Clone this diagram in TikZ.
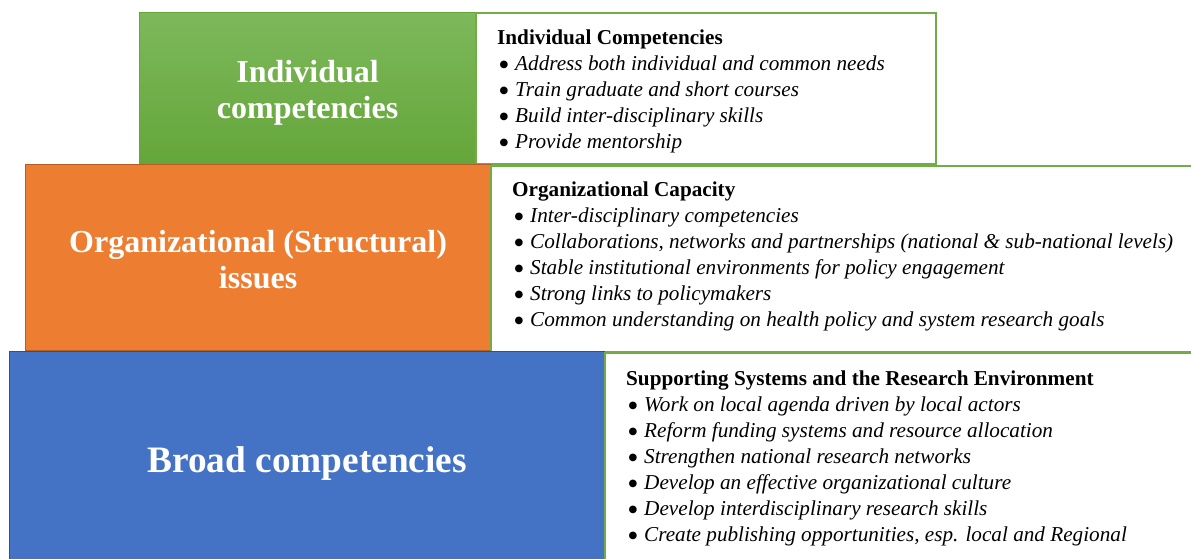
\documentclass[tikz,border=0pt]{standalone}
\usepackage{fontspec}
\setmainfont{Liberation Serif}
\newfontfamily\dotfont{DejaVu Sans}
\usetikzlibrary{positioning}

\definecolor{tiergreen}{HTML}{65A63A}
\definecolor{tiergreentop}{HTML}{7DB85B}
\definecolor{tierorange}{HTML}{ED7D31}
\definecolor{tierblue}{HTML}{4472C4}
\definecolor{framegreen}{HTML}{70AD47}

% one bullet line of a list
\newcommand\bitem[1]{\makebox[18pt][l]{\hspace{2.5pt}\raisebox{3.2pt}{\dotfont\fontsize{10}{10}\selectfont ●}}\textit{#1}}

\begin{document}
\begin{tikzpicture}[x=1pt, y=-1pt,
    tier/.style={line width=1.2pt, inner sep=0pt, anchor=north west},
    tierlabel/.style={text=white, align=center, inner sep=0pt,
        font=\bfseries\fontsize{32}{36}\selectfont},
    frame/.style={draw=framegreen, line width=2pt, fill=white, inner sep=0pt,
        anchor=north west},
    list/.style={anchor=north west, align=left, inner sep=0pt,
        font=\fontsize{21.2}{26}\selectfont}]
    \useasboundingbox (0, 0) rectangle (1191, 558);
    \clip (0, 0) rectangle (1191, 558);

    % Top tier
    \node[tier, draw=tiergreen, top color=tiergreentop, bottom color=tiergreen,
        minimum width=336pt, minimum height=151pt] (indiv) at (139, 12) {};
    \node[tierlabel] (indivtext) at ([yshift=-5pt]indiv.center) {Individual\\competencies};
    \node[frame, minimum width=460pt, minimum height=151pt] (indivframe) at (475, 12) {};
    \node[list] (indivlist) at (497, 30) {%
        \textbf{Individual Competencies}\\
        \bitem{Address both individual and common needs}\\
        \bitem{Train graduate and short courses}\\
        \bitem{Build inter-disciplinary skills}\\
        \bitem{Provide mentorship}};

    % Middle tier
    \node[tier, draw=tierorange!75!black, fill=tierorange,
        minimum width=465pt, minimum height=186pt] (org) at (25, 164) {};
    \node[tierlabel] (orgtext) at ([yshift=-2pt]org.center) {Organizational (Structural)\\issues};
    \node[frame, minimum width=720pt, minimum height=186pt] (orgframe) at (490, 165) {};
    \node[list] (orglist) at (512, 182) {%
        \textbf{Organizational Capacity}\\
        \bitem{Inter-disciplinary competencies}\\
        \bitem{Collaborations, networks and partnerships (national \& sub-national levels)}\\
        \bitem{Stable institutional environments for policy engagement}\\
        \bitem{Strong links to policymakers}\\
        \bitem{Common understanding on health policy and system research goals}};

    % Bottom tier
    \node[tier, draw=tierblue!70!black, fill=tierblue,
        minimum width=595pt, minimum height=215pt] (broad) at (9, 351) {};
    \node[tierlabel, font=\bfseries\fontsize{37.3}{42}\selectfont] (broadtext)
        at ([yshift=-4pt]broad.center) {Broad competencies};
    \node[frame, minimum width=600pt, minimum height=215pt] (broadframe) at (604, 352) {};
    \node[list] (broadlist) at (626, 371) {%
        \textbf{Supporting Systems and the Research Environment}\\
        \bitem{Work on local agenda driven by local actors}\\
        \bitem{Reform funding systems and resource allocation}\\
        \bitem{Strengthen national research networks}\\
        \bitem{Develop an effective organizational culture}\\
        \bitem{Develop interdisciplinary research skills}\\
        \bitem{Create publishing opportunities, esp. local and Regional}};
\end{tikzpicture}
\end{document}
